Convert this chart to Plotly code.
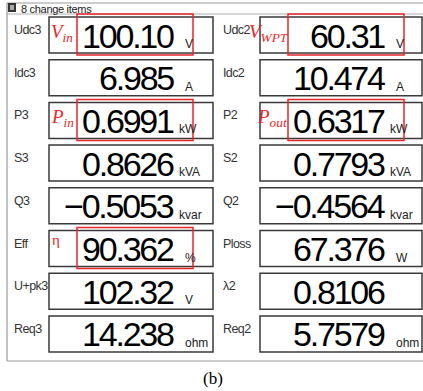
import plotly.graph_objects as go

# ---- data ----
left_labels = ["Udc3", "Idc3", "P3", "S3", "Q3", "Eff", "U+pk3", "Req3"]
left_values = ["100.10", "6.985", "0.6991", "0.8626", "−0.5053", "90.362", "102.32", "14.238"]
left_units = ["V", "A", "kW", "kVA", "kvar", "%", "V", "ohm"]

right_labels = ["Udc2", "Idc2", "P2", "S2", "Q2", "Ploss", "λ2", "Req2"]
right_values = ["60.31", "10.474", "0.6317", "0.7793", "−0.4564", "67.376", "0.8106", "5.7579"]
right_units = ["V", "A", "kW", "kVA", "kvar", "W", "", "ohm"]

# highlighted items: (column, row, symbol)
highlights = [
    (0, 0, "V<sub>in</sub>"),
    (1, 0, "V<sub>WPT</sub>"),
    (0, 2, "P<sub>in</sub>"),
    (1, 2, "P<sub>out</sub>"),
    (0, 5, "η"),
]
header_text = "8 change items"
caption = "(b)"

# ---- layout geometry ----
W, H = 423, 391
col_label_x = [12, 221]
col_box_x = [49, 260]
col_box_w = [164, 162]
row_top0 = 17
row_pitch = 42.7
box_h = 36

NUM_FONT = "Liberation Sans, Arial, sans-serif"
LBL_FONT = "Liberation Sans, Arial, sans-serif"
SERIF = "Liberation Serif, Times New Roman, serif"
RED = "#e8262a"

shapes = []
annotations = []

# outer frame lines
shapes.append(dict(type="line", x0=7, x1=W, y0=3, y1=3, line=dict(color="#9a9a9a", width=1)))
shapes.append(dict(type="line", x0=7, x1=W, y0=14, y1=14, line=dict(color="#b0b0b0", width=1)))
shapes.append(dict(type="line", x0=7, x1=7, y0=3, y1=361, line=dict(color="#9a9a9a", width=1.2)))
shapes.append(dict(type="line", x0=7, x1=W, y0=361, y1=361, line=dict(color="#9a9a9a", width=1.2)))

# header icon
shapes.append(dict(type="rect", x0=8, x1=16, y0=3, y1=12, fillcolor="#333333", line=dict(width=0)))
shapes.append(dict(type="rect", x0=10, x1=14, y0=5, y1=10, fillcolor="#aaaaaa", line=dict(width=0)))
annotations.append(dict(x=19, y=8.5, text=f'<span style="letter-spacing:-0.3px">{header_text}</span>',
                        showarrow=False, xanchor="left", yanchor="middle",
                        font=dict(family=NUM_FONT, size=11, color="#222")))

cols = [(left_labels, left_values, left_units), (right_labels, right_values, right_units)]
for c, (labels, values, units) in enumerate(cols):
    bx = col_box_x[c]
    for r, (lab, val, unit) in enumerate(zip(labels, values, units)):
        top = row_top0 + r * row_pitch
        bot = top + box_h
        mid = (top + bot) / 2
        shapes.append(dict(type="rect", x0=bx, x1=bx + col_box_w[c], y0=top, y1=bot,
                           line=dict(color="#3a3a3a", width=1.5), fillcolor="white"))
        annotations.append(dict(x=col_label_x[c], y=mid - 5,
                                text=f'<span style="letter-spacing:-0.6px">{lab}</span>',
                                showarrow=False, xanchor="left", yanchor="middle",
                                font=dict(family=LBL_FONT, size=12.5, color="#333")))
        annotations.append(dict(x=bx + 127, y=mid + 0.5, text=f'<span style="letter-spacing:-2.2px">{val}</span>',
                                showarrow=False, xanchor="right", yanchor="middle",
                                font=dict(family=NUM_FONT, size=34, color="black")))
        if unit:
            ux = bx + 128 if unit.startswith("k") else bx + 134
            annotations.append(dict(x=ux, y=mid + 9, text=unit, showarrow=False,
                                    xanchor="left", yanchor="middle",
                                    font=dict(family=NUM_FONT, size=12, color="#222")))

for c, r, sym in highlights:
    bx = col_box_x[c]
    top = row_top0 + r * row_pitch
    bot = top + box_h
    shapes.append(dict(type="rect", x0=bx + 28, x1=bx + 144, y0=top - 3, y1=bot + 2,
                       line=dict(color=RED, width=1.5)))
    if sym == "η":
        annotations.append(dict(x=bx + 1, y=top + 9, text=sym, showarrow=False,
                                xanchor="left", yanchor="middle",
                                font=dict(family=SERIF, size=15, color=RED)))
    else:
        sx = bx + 0 if c == 0 else (bx - 13 if r == 0 else bx - 5)
        annotations.append(dict(x=sx, y=top + 16, text=f"<i>{sym}</i>", showarrow=False,
                                xanchor="left", yanchor="middle",
                                font=dict(family=SERIF, size=19, color=RED)))

annotations.append(dict(x=213, y=378, text=caption, showarrow=False, xanchor="center", yanchor="middle",
                        font=dict(family=SERIF, size=17, color="black")))

fig = go.Figure()
fig.update_layout(
    width=W, height=H, margin=dict(l=0, r=0, t=0, b=0),
    paper_bgcolor="white", plot_bgcolor="white",
    xaxis=dict(range=[0, W], visible=False, fixedrange=True),
    yaxis=dict(range=[H, 0], visible=False, fixedrange=True),
    shapes=shapes, annotations=annotations, showlegend=False,
)
fig.write_html("out.html", config={"displayModeBar": False},
               post_script="document.body.style.margin='0';document.body.style.overflow='hidden';")
